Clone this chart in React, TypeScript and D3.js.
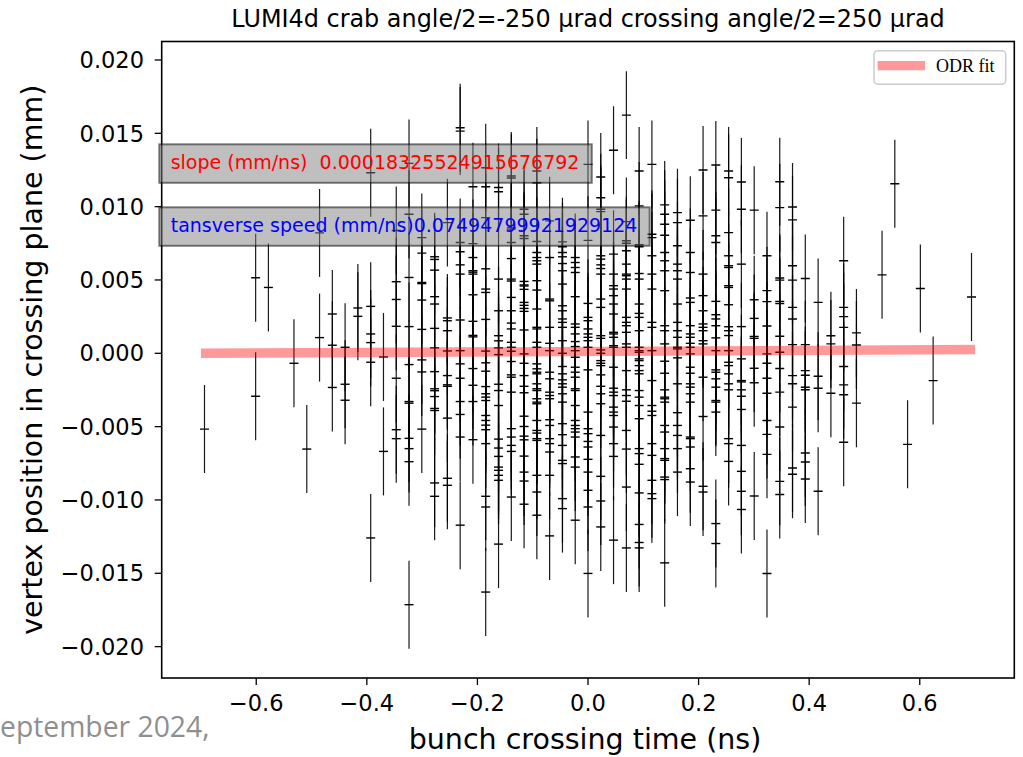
import React, { useLayoutEffect, useRef, useState } from "react";
import * as d3 from "d3";

// Bunch crossing time of each populated column (ns)
const bunchTimes = [
  -0.6936, -0.6011, -0.578, -0.5318, -0.5086, -0.4855, -0.4624, -0.4393, -0.4162, -0.393,
  -0.3699, -0.3468, -0.3237, -0.3006, -0.2774, -0.2543, -0.2312, -0.2081, -0.185, -0.1618,
  -0.1387, -0.1156, -0.0925, -0.0694, -0.0462, -0.0231, 0, 0.0231, 0.0462, 0.0694,
  0.0925, 0.1156, 0.1387, 0.1618, 0.185, 0.2081, 0.2312, 0.2543, 0.2774, 0.3006,
  0.3237, 0.3468, 0.3699, 0.393, 0.4162, 0.4393, 0.4624, 0.4855, 0.5318, 0.5549,
  0.578, 0.6011, 0.6242, 0.6936,
];

// Reconstructed vertex positions (mm) for each bunch crossing time above
const vertexPositions: number[][] = [
  [-0.00517],
  [0.00515, -0.00293],
  [0.00449],
  [-0.00068],
  [-0.00653],
  [0.00821, 0.00107],
  [0.00268, 0.00055, -0.00233],
  [0.00041, -0.00211, -0.0032],
  [0.00309, 0.00252],
  [0.01231, 0.0032, 0.00132, 0.00073, -0.00061, -0.01259],
  [-0.00025, -0.00669],
  [0.00837, 0.00488, 0.00367, 0.00184, -0.0017, -0.00521, -0.00582],
  [0.01295, 0.00948, 0.00517, 0.00182, -0.00077, -0.00329, -0.0034, -0.0058, -0.0065, -0.00739, -0.01714],
  [0.00789, 0.00683, 0.00483, 0.00475, 0.00363, 0.00163, -0.00045, -0.00127, -0.00517],
  [0.00658, 0.0064, 0.00567, 0.00386, 0.00336, 0.0017, 0.00037, -0.00125, -0.00242, -0.00255, -0.00295, -0.00376, -0.0039, -0.00884, -0.00975],
  [0.00891, 0.00241, 0.00222, 0.00154, 0.00016, -0.00152, -0.00215, -0.00225, -0.00442, -0.00852, -0.009],
  [0.01538, 0.01515, 0.00755, 0.00692, 0.00603, 0.0054, 0.00227, 0.00018, -0.00072, -0.0017, -0.00329, -0.00417, -0.00571, -0.01172],
  [0.01136, 0.00748, 0.00653, 0.00563, 0.00553, 0.0054, 0.00399, 0.00218, 0.00122, 0.00112, -0.00104, -0.00218, -0.00329, -0.00589],
  [0.01265, 0.01136, 0.00925, 0.00576, 0.00438, 0.00415, 0.00231, 0.00015, -0.00065, -0.00122, -0.00227, -0.00276, -0.00299, -0.00322, -0.00424, -0.00458, -0.0049, -0.00521, -0.00616, -0.00975, -0.01048, -0.01628],
  [0.0113, 0.01102, 0.00506, 0.0029, 0.0012, 0.00085, 0.00037, -0.00009, -0.00211, -0.00254, -0.00356, -0.00585, -0.00646, -0.00703, -0.00776, -0.00798, -0.00832, -0.00866, -0.01301],
  [0.01209, 0.01195, 0.00857, 0.00847, 0.00755, 0.00646, 0.00506, 0.00493, 0.00381, 0.0029, 0.00206, 0.00166, 0.00075, 0.00041, 0.00014, -0.00056, -0.00147, -0.00163, -0.00265, -0.00514, -0.00571, -0.00628, -0.00669, -0.0098],
  [0.00982, 0.00948, 0.00801, 0.00783, 0.0049, 0.00466, 0.00459, 0.00436, 0.00347, 0.00327, 0.00306, 0.00286, 0.00159, -0.00004, -0.00068, -0.00152, -0.00225, -0.00269, -0.00429, -0.00499, -0.00565, -0.0059, -0.00701, -0.0081, -0.00871, -0.01029],
  [0.01243, 0.01163, 0.00762, 0.00687, 0.00653, 0.00631, 0.00608, 0.00495, 0.00431, 0.00302, 0.00177, 0.00166, 0.00075, 0.00041, -0.00072, -0.00106, -0.00129, -0.0014, -0.00208, -0.00242, -0.00254, -0.0031, -0.00333, -0.00344, -0.00458, -0.00526, -0.00544, -0.00582, -0.00594, -0.00832, -0.00946, -0.01104],
  [0.00903, 0.00653, 0.0037, 0.00358, 0.00177, 0.00068, 0.00018, -0.00129, -0.00174, -0.00265, -0.00288, -0.0031, -0.00453, -0.00492, -0.00582, -0.00616, -0.00673, -0.00832, -0.01245],
  [0.0076, 0.00726, 0.00687, 0.00658, 0.00612, 0.00563, 0.00472, 0.00324, 0.0029, 0.00234, 0.00211, 0.00177, 0.00086, 0.0, -0.0009, -0.0014, -0.00181, -0.00208, -0.00231, -0.00276, -0.00333, -0.0048, -0.00555, -0.00628, -0.0073, -0.00752, -0.00991, -0.01059],
  [0.00653, 0.00619, 0.00585, 0.00551, 0.00386, 0.002, 0.00177, 0.00132, 0.0008, 0.00046, 0.00018, -0.00027, -0.00095, -0.00129, -0.00163, -0.00242, -0.00254, -0.00356, -0.00458, -0.00492, -0.00514, -0.00537, -0.00571, -0.00707, -0.00776, -0.01138],
  [0.01288, 0.0077, 0.0034, 0.00245, 0.00222, 0.00166, 0.00132, 0.00109, 0.00086, 0.00041, -0.00113, -0.00401, -0.00514, -0.00548, -0.00601, -0.00639, -0.00723, -0.0081, -0.00934, -0.01048, -0.01501],
  [0.01202, 0.01061, 0.00982, 0.00966, 0.00665, 0.00642, 0.00603, 0.00578, 0.0054, 0.0037, 0.00313, 0.0012, 0.00102, 0.00023, 0.0, -0.0005, -0.00068, -0.00084, -0.00147, -0.00225, -0.00276, -0.00344, -0.0056, -0.00839, -0.01007, -0.01184],
  [0.01384, 0.00676, 0.0054, 0.00461, 0.00438, 0.00393, 0.00336, 0.00268, 0.00143, 0.00132, 0.00109, 0.00052, 0.00041, -0.00095, -0.00238, -0.00265, -0.00288, -0.00367, -0.00401, -0.00424, -0.00503, -0.00616, -0.00703, -0.01274],
  [0.01624, 0.00898, 0.00767, 0.0075, 0.00699, 0.00608, 0.0054, 0.00529, 0.00506, 0.00438, 0.00245, 0.00211, 0.00188, 0.00143, 0.00064, 0.00041, -0.00118, -0.00249, -0.00288, -0.00327, -0.00526, -0.00653, -0.00912, -0.01327],
  [0.01243, 0.01005, 0.0074, 0.00726, 0.00544, 0.00506, 0.00336, 0.00272, 0.00245, 0.00154, 0.00041, 0.00018, 0.00007, -0.00038, -0.0005, -0.00084, -0.00118, -0.0014, -0.00254, -0.00299, -0.00356, -0.00446, -0.0065, -0.00684, -0.00757, -0.00952, -0.01167, -0.0129, -0.01327],
  [0.01288, 0.00812, 0.00789, 0.00665, 0.0054, 0.00438, 0.00211, 0.00177, 0.00018, -0.00186, -0.00356, -0.00395, -0.00424, -0.00616, -0.00696, -0.00866, -0.00957, -0.00991],
  [0.01012, 0.00948, 0.0088, 0.00805, 0.00687, 0.00631, 0.00563, 0.00427, 0.00188, 0.00154, 0.00064, -0.00054, -0.00136, -0.00249, -0.00299, -0.0031, -0.00333, -0.00492, -0.00537, -0.0065, -0.00718, -0.0073, -0.00844, -0.00861, -0.01429],
  [0.00959, 0.00891, 0.00733, 0.00608, 0.00563, 0.00506, 0.00336, 0.00211, 0.00154, 0.00109, 0.00041, 0.0003, -0.00031, -0.00208, -0.00405, -0.00492, -0.0056, -0.0065, -0.0081],
  [0.00907, 0.00687, 0.00551, 0.00377, 0.00347, 0.00188, 0.00132, 0.00109, 0.00068, 0.00041, -0.00004, -0.00095, -0.00136, -0.00208, -0.00231, -0.00276, -0.00333, -0.00571, -0.00582, -0.00639, -0.00787, -0.00878],
  [0.0125, 0.00937, 0.0054, 0.00393, 0.0029, 0.002, 0.00177, 0.00154, 0.00086, 0.00064, -0.00163, -0.00431, -0.00907, -0.00946],
  [0.01284, 0.00976, 0.00801, 0.00755, 0.00354, 0.00263, 0.00234, 0.00188, 0.00105, 0.00018, -0.00113, -0.00129, -0.00174, -0.00231, -0.00322, -0.00333, -0.00401, -0.01161, -0.01297],
  [0.01243, 0.01197, 0.00823, 0.00665, 0.00597, 0.00585, 0.00461, 0.00449, 0.00331, 0.00181, 0.00154, 0.00121, 0.00018, -0.00061, -0.00084, -0.0014, -0.00208, -0.00249, -0.00582, -0.00616, -0.00737],
  [0.01168, 0.00982, 0.00608, 0.00182, -0.00038, -0.00186, -0.00195, -0.00249, -0.00293, -0.00383, -0.00628, -0.00805, -0.00941, -0.01065],
  [0.00976, 0.00365, 0.00238, 0.00115, 0.00102, -0.00102, -0.00201, -0.00973],
  [0.00665, 0.00427, 0.00352, 0.00186, -0.00004, -0.00068, -0.0017, -0.00272, -0.00458, -0.00553, -0.00689, -0.01501],
  [0.0117, 0.00993, 0.00513, 0.00499, 0.00354, 0.0034, 0.00116, 0.00007, -0.00104, -0.00265, -0.00503, -0.00873, -0.00963],
  [0.00998, 0.0091, 0.00597, 0.00499, 0.00313, 0.00234, 0.00059, -0.00152, -0.00208, -0.00367, -0.00782, -0.00825],
  [0.0051, 0.00059, -0.00118, -0.0015, -0.00231, -0.00249, -0.0068, -0.00741, -0.00857],
  [0.00347, -0.00156, -0.00238, -0.00941],
  [0.0012, 0.00064, -0.00272],
  [0.00631, 0.00313, 0.0025, 0.00177, -0.0009, -0.00215, -0.00283, -0.00607],
  [0.00139, 0.00057, -0.0034],
  [0.00535],
  [0.01156],
  [-0.00621],
  [0.00442],
  [-0.00186],
  [0.00384],
];

const vertexError = 0.003; // mm, symmetric y error of every vertex

// Orthogonal distance regression result
const fitSlope = 0.00018325524915676792; // mm/ns
const fitIntercept = 0.00013; // mm
const fitRange = [-0.7, 0.7];
const transverseSpeed = 0.07494799921929124;

const xTicks = [-0.6, -0.4, -0.2, 0, 0.2, 0.4, 0.6];
const yTicks = [-0.02, -0.015, -0.01, -0.005, 0, 0.005, 0.01, 0.015, 0.02];

const titleText = "LUMI4d crab angle/2=-250 µrad crossing angle/2=250 µrad";
const xLabel = "bunch crossing time (ns)";
const yLabel = "vertex position in crossing plane (mm)";
const legendLabel = "ODR fit";
const slopeLabel = `slope (mm/ns)  ${fitSlope}`;
const speedLabel = `tansverse speed (mm/ns)${transverseSpeed}`;
const footerText = "eptember 2024,";

const W = 1023;
const H = 757;
const frame = { left: 161.7, right: 1014.3, top: 41.5, bottom: 678 };
const SANS = "'DejaVu Sans', sans-serif";

const minus = (s: string) => s.replace("-", "\u2212");

export default function App() {
  const x = d3.scaleLinear().domain([-0.771, 0.771]).range([frame.left, frame.right]);
  const y = d3.scaleLinear().domain([-0.02214, 0.02126]).range([frame.bottom, frame.top]);

  const points = bunchTimes.flatMap((t, i) => vertexPositions[i].map((v) => ({ t, v })));

  const fitLine = d3
    .line<number>()
    .x((t) => x(t))
    .y((t) => y(fitIntercept + fitSlope * t));

  const slopeRef = useRef<SVGTextElement>(null);
  const speedRef = useRef<SVGTextElement>(null);
  const [widths, setWidths] = useState({ slope: 409, speed: 467 });
  useLayoutEffect(() => {
    if (slopeRef.current && speedRef.current) {
      setWidths({
        slope: slopeRef.current.getComputedTextLength(),
        speed: speedRef.current.getComputedTextLength(),
      });
    }
  }, []);

  const textX = 170.7;
  const boxes = [
    { label: slopeLabel, color: "#ff0000", base: 169.3, w: widths.slope, ref: slopeRef },
    { label: speedLabel, color: "#0000ff", base: 232.3, w: widths.speed, ref: speedRef },
  ];

  const xf = d3.format(".1f");
  const yf = d3.format(".3f");

  return (
    <svg
      width={W}
      height={H}
      viewBox={`0 0 ${W} ${H}`}
      style={{ position: "fixed", left: 0, top: 0, display: "block", background: "#fff" }}
    >
      <rect x={0} y={0} width={W} height={H} fill="#fff" />
      <defs>
        <clipPath id="plot-area">
          <rect x={frame.left} y={frame.top} width={frame.right - frame.left} height={frame.bottom - frame.top} />
        </clipPath>
      </defs>

      {/* error bars and markers */}
      <g clipPath="url(#plot-area)">
        {points.map((p, i) => (
          <line
            key={`e${i}`}
            x1={x(p.t)}
            x2={x(p.t)}
            y1={y(p.v - vertexError)}
            y2={y(p.v + vertexError)}
            stroke="#000"
            strokeOpacity={0.9}
            strokeWidth={1.2}
          />
        ))}
        {points.map((p, i) => (
          <line
            key={`m${i}`}
            x1={x(p.t) - 4.5}
            x2={x(p.t) + 4.5}
            y1={y(p.v)}
            y2={y(p.v)}
            stroke="#000"
            strokeWidth={1.4}
          />
        ))}
        <path d={fitLine(fitRange) ?? ""} fill="none" stroke="#ff0000" strokeOpacity={0.4} strokeWidth={9.3} />
      </g>

      {/* frame */}
      <rect
        x={frame.left}
        y={frame.top}
        width={frame.right - frame.left}
        height={frame.bottom - frame.top}
        fill="none"
        stroke="#000"
        strokeWidth={1.6}
      />

      {/* x axis */}
      {xTicks.map((t) => (
        <g key={`xt${t}`}>
          <line x1={x(t)} x2={x(t)} y1={frame.bottom} y2={frame.bottom + 7} stroke="#000" strokeWidth={1.3} />
          <text x={x(t)} y={711} textAnchor="middle" fontFamily={SANS} fontSize={22.5} fill="#000">
            {minus(xf(t))}
          </text>
        </g>
      ))}
      <text x={(frame.left + frame.right) / 2 - 3} y={749} textAnchor="middle" fontFamily={SANS} fontSize={28.5} fill="#000">
        {xLabel}
      </text>

      {/* y axis */}
      {yTicks.map((t) => (
        <g key={`yt${t}`}>
          <line x1={frame.left - 7} x2={frame.left} y1={y(t)} y2={y(t)} stroke="#000" strokeWidth={1.3} />
          <text x={144} y={y(t) + 8.2} textAnchor="end" fontFamily={SANS} fontSize={22.5} fill="#000">
            {minus(yf(t))}
          </text>
        </g>
      ))}
      <text
        transform={`translate(42, ${(frame.top + frame.bottom) / 2}) rotate(-90)`}
        textAnchor="middle"
        fontFamily={SANS}
        fontSize={28.5}
        fill="#000"
      >
        {yLabel}
      </text>

      {/* title */}
      <text x={(frame.left + frame.right) / 2} y={27} textAnchor="middle" fontFamily={SANS} fontSize={23.9} fill="#000">
        {titleText}
      </text>

      {/* fit annotations */}
      {boxes.map((b) => (
        <g key={b.label}>
          <rect
            x={textX - 11.4}
            y={b.base - 25}
            width={b.w + 23.7}
            height={38.5}
            fill="#808080"
            fillOpacity={0.5}
            stroke="#000"
            strokeOpacity={0.5}
            strokeWidth={2}
          />
          <text ref={b.ref} x={textX} y={b.base} fontFamily={SANS} fontSize={19} fill={b.color} style={{ whiteSpace: "pre" }}>
            {b.label}
          </text>
        </g>
      ))}

      {/* legend */}
      <g>
        <rect x={874} y={50.7} width={131.7} height={33.6} rx={4} fill="#fff" fillOpacity={0.8} stroke="#cccccc" strokeWidth={1.5} />
        <line x1={882.3} x2={920.4} y1={65.7} y2={65.7} stroke="#ff0000" strokeOpacity={0.4} strokeWidth={9.3} strokeLinecap="square" />
        <text x={936} y={71.7} fontFamily="'Liberation Serif', 'Times New Roman', serif" fontSize={18} fill="#000">
          {legendLabel}
        </text>
      </g>

      {/* slide footer */}
      <text x={0} y={737} fontFamily="'Open Sans', sans-serif" fontSize={28.3} fill="#8f8f8f">
        {footerText}
      </text>
    </svg>
  );
}
